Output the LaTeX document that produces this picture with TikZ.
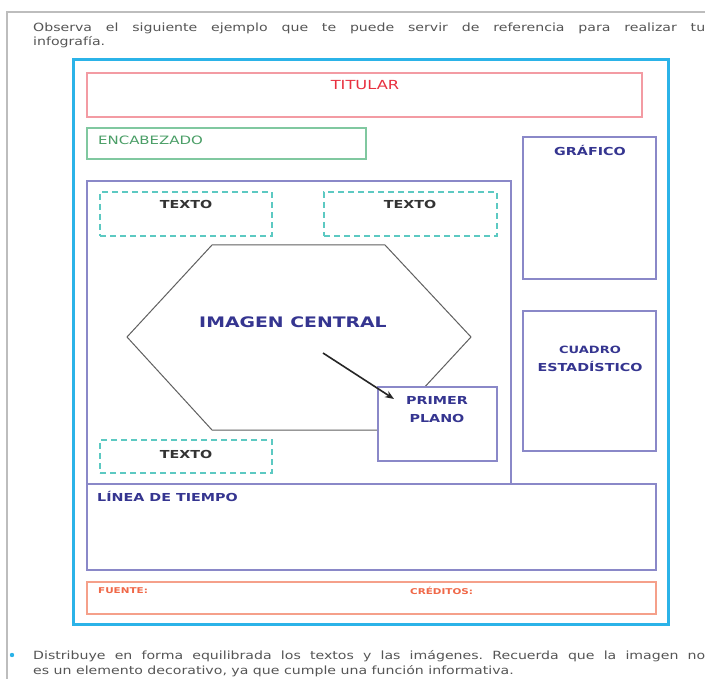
\documentclass[tikz,border=0pt]{standalone}
\usepackage{fontspec}
\setmainfont{DejaVu Sans}
\newfontfamily\lab[FakeStretch=1.3]{DejaVu Sans}
\newfontfamily\bodyf[FakeStretch=1.25]{DejaVu Sans}
\usetikzlibrary{arrows.meta}
\definecolor{cyanb}{HTML}{2BB3E8}
\definecolor{titbord}{HTML}{F39BA3}
\definecolor{tittext}{HTML}{E8303F}
\definecolor{encbord}{HTML}{80C8A0}
\definecolor{enctext}{HTML}{4A9E66}
\definecolor{purp}{HTML}{8A88C8}
\definecolor{navy}{HTML}{353590}
\definecolor{tealdash}{HTML}{5CC9C2}
\definecolor{hexgrey}{HTML}{606060}
\definecolor{coralb}{HTML}{F5A08A}
\definecolor{coralt}{HTML}{F06848}
\definecolor{bodytext}{HTML}{555555}
\definecolor{framegrey}{HTML}{BDBDBD}
\definecolor{darktext}{HTML}{333333}
\tikzset{
  boxnw/.style={draw, inner sep=0pt, outer sep=0pt, anchor=north west, line width=1.1pt},
  dashbox/.style={boxnw, draw=tealdash, dash pattern=on 6pt off 4pt, line width=1.3pt},
  purpbox/.style={boxnw, draw=purp},
  lbl/.style={inner sep=0pt, font=\lab\bfseries\fontsize{11}{13}\selectfont},
  body/.style={inner sep=0pt, anchor=base west, text=bodytext, font=\bodyf\fontsize{11.3}{13}\selectfont}
}
\begin{document}
\frenchspacing
\begin{tikzpicture}[x=1pt,y=-1pt]
\useasboundingbox (0,0) rectangle (705,679);
\fill[white] (0,0) rectangle (705,679);
% grey frame
\draw[framegrey, line width=1.3pt] (7,679) -- (7,12) -- (705,12);
% intro text
\node[body] (intro1) at (33,32) {\makebox[672pt][s]{Observa el siguiente ejemplo que te puede servir de referencia para realizar tu}};
\node[body] (intro2) at (33,46) {infografía.};
% outer blue frame
\node[boxnw, draw=cyanb, line width=3pt, minimum width=595pt, minimum height=564pt] (outer) at (73,60) {};
% titular
\node[boxnw, draw=titbord, minimum width=555pt, minimum height=44pt] (titbox) at (87,73) {};
\node[lbl, text=tittext, font=\lab\fontsize{12.5}{14}\selectfont] (titular) at (365,85) {TITULAR};
% encabezado
\node[boxnw, draw=encbord, minimum width=279pt, minimum height=31pt] (encbox) at (87,128) {};
\node[lbl, anchor=west, text=enctext, font=\lab\fontsize{11.5}{13}\selectfont] (encab) at (98,140) {ENCABEZADO};
% grafico
\node[purpbox, minimum width=133pt, minimum height=142pt] (grafbox) at (523,137) {};
\node[lbl, text=navy] (grafico) at (590,150) {GRÁFICO};
% cuadro estadistico
\node[purpbox, minimum width=133pt, minimum height=140pt] (cuadbox) at (523,311) {};
\node[lbl, text=navy, font=\lab\bfseries\fontsize{10}{13}\selectfont] (cuadro) at (590,350) {CUADRO};
\node[lbl, text=navy] (estad) at (590,366) {ESTADÍSTICO};
% main panel
\node[purpbox, minimum width=424pt, minimum height=303pt] (panel) at (87,181) {};
% linea de tiempo
\node[purpbox, minimum width=569pt, minimum height=86pt] (lineabox) at (87,484) {};
\node[lbl, anchor=west, text=navy] (linea) at (97,496) {LÍNEA DE TIEMPO};
% fuente / creditos
\node[boxnw, draw=coralb, minimum width=569pt, minimum height=32pt] (fuentebox) at (87,582) {};
\node[lbl, anchor=west, text=coralt, font=\lab\bfseries\fontsize{8}{9}\selectfont] (fuente) at (98,591) {FUENTE:};
\node[lbl, anchor=west, text=coralt, font=\lab\bfseries\fontsize{8}{9}\selectfont] (creditos) at (410,591) {CRÉDITOS:};
% dashed texto boxes
\node[dashbox, minimum width=172pt, minimum height=44pt] (t1box) at (100,192) {};
\node[lbl, text=darktext] (t1) at (186,204) {TEXTO};
\node[dashbox, minimum width=173pt, minimum height=44pt] (t2box) at (324,192) {};
\node[lbl, text=darktext] (t2) at (410,204) {TEXTO};
\node[dashbox, minimum width=172pt, minimum height=33pt] (t3box) at (100,440) {};
\node[lbl, text=darktext] (t3) at (186,454) {TEXTO};
% hexagon
\coordinate (h1) at (212,245);
\coordinate (h2) at (385,245);
\coordinate (h3) at (471,337);
\coordinate (h4) at (385,430);
\coordinate (h5) at (212,430);
\coordinate (h6) at (127,337);
\draw[hexgrey, line width=1pt, line join=miter] (h1) -- (h2) -- (h3) -- (h4) -- (h5) -- (h6) -- cycle;
\node[lbl, text=navy, font=\lab\bfseries\fontsize{14.5}{16}\selectfont] (imagen) at (293,322) {IMAGEN CENTRAL};
% primer plano
\node[purpbox, fill=white, minimum width=119pt, minimum height=74pt] (ppbox) at (378,387) {};
\node[lbl, text=navy] (primer) at (437,400) {PRIMER};
\node[lbl, text=navy] (plano) at (437,418) {PLANO};
% arrow
\coordinate (arrS) at (323,353);
\coordinate (arrE) at (394,399);
\draw[black!85, line width=1.6pt, -{Stealth[length=9pt,width=7pt]}] (arrS) -- (arrE);
% bullet text
\fill[cyanb] (12,655) circle (2.2pt);
\node[body] (bul1) at (33,659) {\makebox[672pt][s]{Distribuye en forma equilibrada los textos y las imágenes. Recuerda que la imagen no}};
\node[body] (bul2) at (33,674) {es un elemento decorativo, ya que cumple una función informativa.};
\end{tikzpicture}
\end{document}
